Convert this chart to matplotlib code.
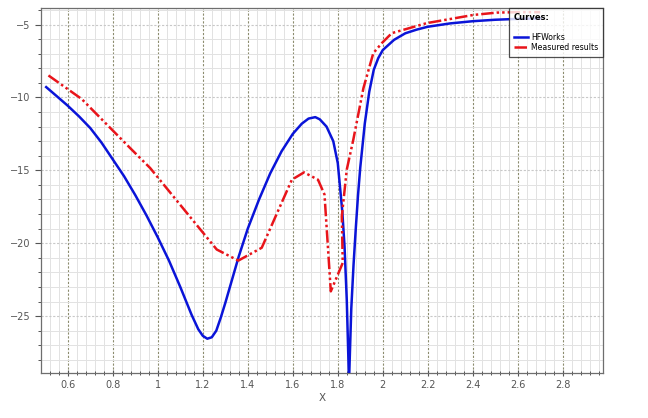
import numpy as np
import matplotlib
matplotlib.use("Agg")
import matplotlib.pyplot as plt
from matplotlib.ticker import MultipleLocator

# HFWorks simulation
hf_x = [0.504, 0.55, 0.6, 0.65, 0.7, 0.75, 0.8, 0.85, 0.9, 0.95, 1.0, 1.05, 1.1, 1.15,
        1.18, 1.2, 1.22, 1.24, 1.26, 1.28, 1.3, 1.33, 1.36, 1.4, 1.45, 1.5, 1.55, 1.6,
        1.64, 1.67, 1.7, 1.72, 1.75, 1.78, 1.8, 1.82, 1.83, 1.84, 1.85, 1.86, 1.87,
        1.88, 1.89, 1.9, 1.92, 1.94, 1.96, 1.98, 2.0, 2.05, 2.1, 2.15, 2.2, 2.3, 2.4,
        2.5, 2.6, 2.7]
hf_y = [-9.29, -9.9, -10.57, -11.3, -12.1, -13.1, -14.25, -15.4, -16.7, -18.1, -19.6,
        -21.2, -23.0, -24.9, -25.9, -26.35, -26.55, -26.45, -26.0, -25.1, -24.1, -22.5,
        -20.9, -19.0, -17.0, -15.2, -13.7, -12.5, -11.8, -11.45, -11.35, -11.5, -12.0,
        -13.0, -14.5, -17.8, -20.2, -23.9, -29.5, -24.5, -21.5, -19.0, -16.7, -14.8,
        -11.8, -9.6, -8.1, -7.3, -6.75, -6.05, -5.6, -5.35, -5.15, -4.92, -4.77, -4.67,
        -4.61, -4.58]

# measured results
ms_x = [0.514, 0.662, 0.877, 0.966, 1.262, 1.358, 1.462, 1.596, 1.65, 1.712, 1.741,
        1.769, 1.822, 1.818, 1.84, 1.869, 1.914, 1.958, 1.996, 2.04, 2.196, 2.403,
        2.507, 2.6, 2.7]
ms_y = [-8.49, -10.11, -13.47, -14.84, -20.43, -21.19, -20.31, -15.64, -15.14, -15.64,
        -16.66, -23.3, -21.35, -18.15, -14.95, -12.9, -9.36, -6.96, -6.27, -5.59, -4.9,
        -4.34, -4.18, -4.15, -4.15]

x_ticks = [0.6, 0.8, 1, 1.2, 1.4, 1.6, 1.8, 2, 2.2, 2.4, 2.6, 2.8]
x_labels = ["0.6", "0.8", "1", "1.2", "1.4", "1.6", "1.8", "2", "2.2", "2.4", "2.6", "2.8"]
y_ticks = [-25, -20, -15, -10, -5]

fig = plt.figure(figsize=(6.48, 4.18), dpi=100)
ax = fig.add_axes([0.0633, 0.1084, 0.8673, 0.8726])

ax.plot(hf_x, hf_y, color="#0a14d8", lw=1.8, label="HFWorks", zorder=3)
ax.plot(ms_x, ms_y, color="#e8141a", lw=1.8, ls=(0, (5, 1.2, 1, 1.2, 1, 1.2)),
        label="Measured results", zorder=4)

ax.set_xlim(0.481, 2.979)
ax.set_ylim(-28.88, -3.86)
ax.set_xticks(x_ticks)
ax.set_xticklabels(x_labels)
ax.set_yticks(y_ticks)
ax.xaxis.set_minor_locator(MultipleLocator(0.04))
ax.yaxis.set_minor_locator(MultipleLocator(1))

# grids
ax.grid(which="minor", color="#e2e2e2", lw=0.7, ls="-")
ax.grid(which="major", axis="x", color="#8c8c6e", lw=0.8, ls=(0, (2, 1.5)))
ax.grid(which="major", axis="y", color="#c8c8c8", lw=0.8, ls=(0, (2, 1.5)))
ax.set_axisbelow(True)

for s in ax.spines.values():
    s.set_color("#6e6e6e")
    s.set_linewidth(0.9)

ax.tick_params(which="major", labelsize=7, colors="#555555", length=4, width=0.8,
               direction="inout")
ax.tick_params(which="minor", length=2.5, width=0.7, colors="#555555", direction="inout")
ax.tick_params(axis="y", which="both", direction="out")
ax.set_xlabel("X", fontsize=7.5, color="#555555", labelpad=2)

leg = ax.legend(loc="upper right", bbox_to_anchor=(1.0, 1.0), title="Curves:",
                fontsize=5.6, title_fontsize=6, frameon=True, fancybox=False,
                handlelength=1.8, handletextpad=0.4, borderpad=0.6, labelspacing=0.15,
                alignment="left", borderaxespad=0)
leg.get_title().set_fontweight("bold")
leg.get_frame().set_edgecolor("#222222")
leg.get_frame().set_linewidth(0.9)
leg._legend_box.sep = 8
leg.set_zorder(10)

fig.savefig("out.png", dpi=100)
